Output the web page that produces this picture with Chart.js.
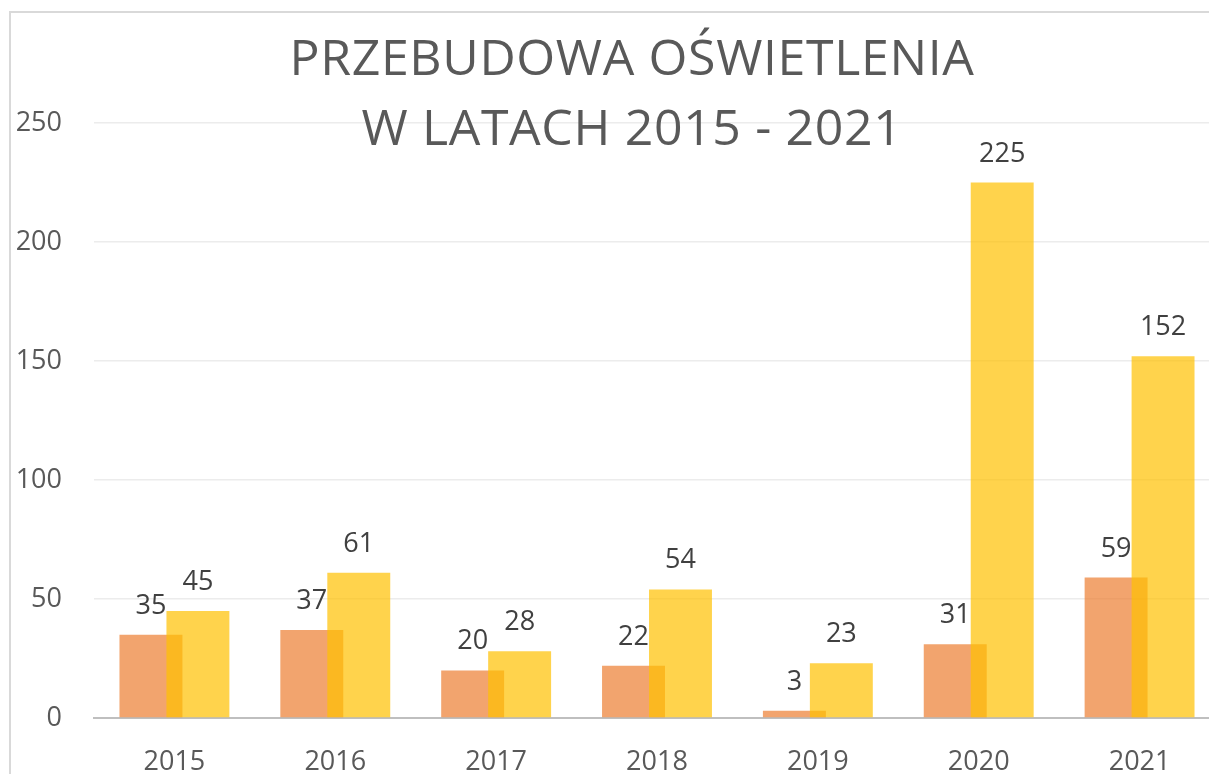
<!DOCTYPE html>
<html>
<head>
<meta charset="utf-8">
<script src="https://cdn.jsdelivr.net/npm/chart.js@4"></script>
<style>
    html, body { margin: 0; padding: 0; background: #fff; overflow: hidden; }
    #frame {
        position: absolute; left: 9px; top: 11px;
        width: 1400px; height: 900px;
        border: 2px solid #d9d9d9;
    }
    #chart { position: absolute; left: 0; top: 0; }
</style>
</head>
<body>
<div id="frame"></div>
<canvas id="chart" width="1220" height="790"></canvas>
<script>
// ========== DANE ==========
const lata = ["2015", "2016", "2017", "2018", "2019", "2020", "2021"];
const seriaA = [35, 37, 20, 22, 3, 31, 59];
const seriaB = [45, 61, 28, 54, 23, 225, 152];
const osY = [0, 50, 100, 150, 200, 250];
const tytul = ["PRZEBUDOWA OŚWIETLENIA", "W LATACH 2015 - 2021"];

const FONT = "'Open Sans', 'Noto Sans', sans-serif";

// ========== TYTUŁ ==========
const tytulPlugin = {
    id: "tytul",
    afterDraw(chart) {
        const ctx = chart.ctx;
        ctx.save();
        ctx.font = `50px ${FONT}`;
        ctx.fillStyle = "#595959";
        ctx.textAlign = "center";
        ctx.textBaseline = "alphabetic";
        if ("letterSpacing" in ctx) ctx.letterSpacing = "0.65px";
        ctx.fillText(tytul[0], 632, 75);
        ctx.fillText(tytul[1], 632, 145);
        ctx.restore();
    },
};

// ========== KOLEJNOŚĆ RYSOWANIA (żółte nad pomarańczowymi) ==========
const kolejnoscPlugin = {
    id: "kolejnosc",
    beforeDatasetDraw(chart, args) {
        if (args.index === 1) return false;
    },
    afterDatasetDraw(chart, args) {
        if (args.index === 0) chart.getDatasetMeta(1).controller.draw();
    },
};

// ========== ETYKIETY ==========
const etykietyPlugin = {
    id: "etykiety",
    afterDatasetsDraw(chart) {
        const ctx = chart.ctx;
        ctx.save();
        ctx.font = `27px ${FONT}`;
        ctx.fillStyle = "#404040";
        ctx.textAlign = "center";
        ctx.textBaseline = "alphabetic";
        chart.data.datasets.forEach((ds, i) => {
            chart.getDatasetMeta(i).data.forEach((bar, j) => {
                ctx.fillText(String(ds.data[j]), bar.x, bar.y - 21);
            });
        });
        ctx.restore();
    },
};

// ========== WYKRES ==========
const ctx = document.getElementById("chart").getContext("2d");
new Chart(ctx, {
    type: "bar",
    data: {
        labels: lata,
        datasets: [
            {
                label: "A",
                data: seriaA,
                backgroundColor: "rgba(237,125,49,0.7)",
                categoryPercentage: 0.584,
                barPercentage: 1.34,
            },
            {
                label: "B",
                data: seriaB,
                backgroundColor: "rgba(255,192,0,0.7)",
                categoryPercentage: 0.584,
                barPercentage: 1.34,
            },
        ],
    },
    options: {
        responsive: false,
        animation: false,
        layout: { padding: { top: 123, left: 0, right: 0, bottom: 0 } },
        plugins: {
            legend: { display: false },
            title: { display: false },
            tooltip: { enabled: false },
        },
        scales: {
            x: {
                offset: true,
                grid: { display: false, drawTicks: false },
                border: { display: true, color: "#bfbfbf", width: 2 },
                ticks: {
                    color: "#595959",
                    font: { family: FONT, size: 27 },
                    padding: 28,
                },
                afterFit(scale) { scale.height = 72; },
            },
            y: {
                min: osY[0],
                max: osY[osY.length - 1],
                afterBuildTicks(scale) {
                    scale.ticks = osY.map((v) => ({ value: v }));
                },
                grid: { color: "#ececec", lineWidth: 1.5, drawTicks: false },
                border: { display: false },
                ticks: {
                    color: "#595959",
                    font: { family: FONT, size: 27 },
                    padding: 32,
                },
                afterFit(scale) { scale.width = 94; },
            },
        },
    },
    plugins: [kolejnoscPlugin, etykietyPlugin, tytulPlugin],
});
</script>
</body>
</html>
